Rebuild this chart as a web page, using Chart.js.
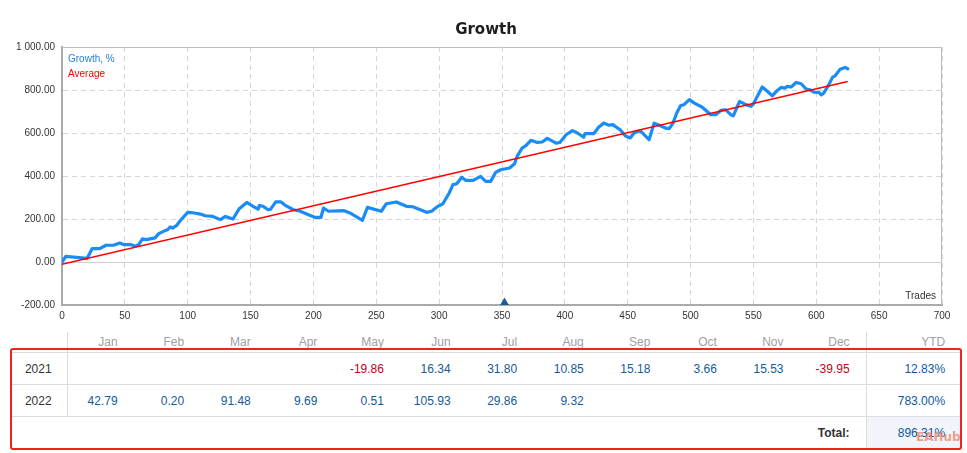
<!DOCTYPE html>
<html>
<head>
<meta charset="utf-8">
<script src="https://cdn.jsdelivr.net/npm/chart.js@4/dist/chart.umd.min.js"></script>
<style>
  body { margin: 0; background: #fff; font-family: "Liberation Sans", Arial, sans-serif; }
  #wrap { position: relative; width: 967px; height: 453px; }
  #growth-chart { position: absolute; left: 0; top: 0; }
  #returns { position: absolute; left: 10px; top: 332px; width: 952px; border-collapse: collapse; table-layout: fixed; font-size: 12px; }
  #returns td { padding: 0; height: 31px; text-align: right; border-top: 1px solid #dcdcdc; }
  #returns tr.head td { height: 20px; color: #a0a0a0; border-top: none; }
  #returns td.year { text-align: center; color: #333; border-right: 1px solid #dcdcdc; }
  #returns td.m { padding-right: 16px; }
  #returns td.ytd { padding-right: 17px; border-left: 1px solid #dcdcdc; color: #0d5aa0; }
  #returns td.pos { color: #135c9c; }
  #returns td.neg { color: #c4001a; }
  #returns td.total-label { padding-right: 16px; font-weight: bold; color: #333; }
  #returns td.total { background: #f1f4fa; }
  #frame { position: absolute; left: 10px; top: 348px; width: 948px; height: 98px; border: 2.5px solid #f0241c; border-radius: 3px; }
  #mark { position: absolute; left: 916px; top: 430px; font: bold 12px "DejaVu Sans", sans-serif; color: rgba(240, 120, 90, 0.7); }
</style>
</head>
<body>
<div id="wrap">
  <canvas id="growth-chart" width="967" height="330"></canvas>
  <table id="returns"></table>
  <div id="frame"></div>
  <div id="mark">EAHub</div>
</div>
<script>
// Growth curve (trade number -> growth %)
const tradeNumbers = [0, 3, 20, 24, 30, 35, 41, 46, 49, 55, 58, 61, 64, 67, 74, 77, 82, 84, 86, 88,
  91, 94, 100, 104, 110, 114, 120, 126, 130, 136, 141, 147, 152, 156, 157, 160, 164, 166, 170, 174,
  178, 184, 189, 196, 201, 206, 208, 212, 224, 229, 239, 243, 254, 258, 266, 274, 279, 290, 294, 299,
  303, 308, 311, 314, 318, 321, 327, 333, 337, 341, 345, 349, 356, 360, 362, 366, 369, 373, 378, 382,
  386, 393, 396, 401, 406, 410, 415, 416, 423, 427, 431, 435, 438, 444, 448, 452, 455, 460, 464, 467,
  471, 475, 480, 483, 486, 489, 492, 495, 499, 503, 509, 513, 516, 520, 524, 528, 532, 534, 539, 544,
  548, 550, 557, 561, 565, 569, 572, 575, 577, 580, 584, 588, 592, 595, 598, 602, 604, 606, 610, 613,
  615, 619, 623, 625];
const growthValues = [0, 26, 17, 62, 62, 78, 78, 88, 81, 81, 73, 81, 108, 104, 112, 132, 146, 150, 163, 158,
  169, 192, 231, 229, 223, 215, 212, 197, 212, 200, 248, 277, 259, 246, 263, 259, 243, 246, 280, 280,
  262, 243, 237, 220, 208, 208, 251, 236, 239, 228, 194, 254, 236, 271, 279, 259, 257, 231, 236, 259,
  271, 321, 360, 364, 394, 380, 380, 398, 375, 375, 417, 429, 437, 457, 491, 530, 541, 566, 556, 558,
  575, 553, 556, 592, 611, 600, 580, 597, 597, 628, 646, 636, 639, 615, 587, 577, 600, 611, 587, 569,
  646, 636, 623, 620, 646, 693, 727, 733, 755, 739, 721, 701, 685, 685, 705, 708, 685, 680, 747, 732,
  724, 736, 814, 794, 773, 798, 812, 809, 817, 814, 835, 829, 804, 801, 790, 789, 777, 786, 825, 860,
  866, 897, 905, 899];

// Average (trend) line end points
const averageTrades = [0, 625];
const averageValues = [-10, 840];

// small marker sitting on the trades axis
const markerTrades = [352];
const markerValues = [-190];

// Monthly returns table
const monthNames = ["Jan", "Feb", "Mar", "Apr", "May", "Jun", "Jul", "Aug", "Sep", "Oct", "Nov", "Dec"];
const years = ["2021", "2022"];
const returns2021 = [null, null, null, null, -19.86, 16.34, 31.80, 10.85, 15.18, 3.66, 15.53, -39.95];
const returns2022 = [42.79, 0.20, 91.48, 9.69, 0.51, 105.93, 29.86, 9.32, null, null, null, null];
const ytdValues = ["12.83%", "783.00%"];
const totalValue = "896.31%";

const BLUE = "#1a8cf5";
const RED = "#ff0000";

function toPoints(xs, ys) {
  return xs.map((x, i) => ({ x, y: ys[i] }));
}

function formatValue(v) {
  const fixed = Math.abs(v).toFixed(2);
  const [intPart, dec] = fixed.split(".");
  const grouped = intPart.replace(/\B(?=(\d{3})+(?!\d))/g, " ");
  return (v < 0 ? "-" : "") + grouped + "." + dec;
}

// title, in-plot legend, "Trades" caption and the plot frame
const decorations = {
  id: "decorations",
  beforeDatasetsDraw(chart) {
    const { ctx, chartArea: a } = chart;
    ctx.save();
    ctx.strokeStyle = "#bdbdbd";
    ctx.lineWidth = 1;
    ctx.beginPath();
    ctx.moveTo(a.left, a.top + 0.5);
    ctx.lineTo(a.right - 0.5, a.top + 0.5);
    ctx.lineTo(a.right - 0.5, a.bottom);
    ctx.stroke();
    ctx.restore();
  },
  afterDraw(chart) {
    const { ctx, chartArea: a } = chart;
    ctx.save();
    ctx.textBaseline = "middle";
    ctx.textAlign = "center";
    ctx.fillStyle = "#1e1e1e";
    ctx.font = "bold 15px 'DejaVu Sans'";
    ctx.fillText("Growth", 486, 30);

    ctx.textAlign = "left";
    ctx.font = "10px 'Liberation Sans'";
    const legendItems = chart.data.datasets.filter((d) => d.label);
    legendItems.forEach((d, i) => {
      ctx.fillStyle = d.legendColor;
      ctx.fillText(d.label, a.left + 6, a.top + 12 + i * 15);
    });

    ctx.textAlign = "right";
    ctx.fillStyle = "#333";
    ctx.fillText("Trades", a.right - 6, a.bottom - 9);
    ctx.restore();
  },
};

const gridDash = (ctx) => (ctx.type === "tick" && ctx.tick && ctx.tick.value !== 0 ? [5, 4] : []);

new Chart(document.getElementById("growth-chart"), {
  type: "line",
  data: {
    datasets: [
      {
        label: "Growth, %",
        legendColor: "#2b82d8",
        data: toPoints(tradeNumbers, growthValues),
        borderColor: BLUE,
        borderWidth: 3.2,
        borderJoinStyle: "round",
        borderCapStyle: "round",
        pointRadius: 0,
        tension: 0,
        order: 2,
      },
      {
        label: "Average",
        legendColor: RED,
        data: toPoints(averageTrades, averageValues),
        borderColor: RED,
        borderWidth: 1.5,
        pointRadius: 0,
        tension: 0,
        order: 1,
      },
      {
        data: toPoints(markerTrades, markerValues),
        showLine: false,
        pointStyle: "triangle",
        pointRadius: 4.5,
        pointBackgroundColor: "#1c5c98",
        pointBorderColor: "#1c5c98",
        pointBorderWidth: 1,
        order: 0,
      },
    ],
  },
  options: {
    responsive: false,
    animation: false,
    layout: { padding: { left: 0, right: 25, top: 47, bottom: 0 } },
    plugins: { legend: { display: false }, tooltip: { enabled: false }, title: { display: false } },
    scales: {
      x: {
        type: "linear",
        min: 0,
        max: 700,
        ticks: { stepSize: 50, color: "#333", font: { family: "Liberation Sans", size: 10 }, padding: 5, maxRotation: 0 },
        grid: { color: "#d6d6d6", drawTicks: false },
        border: { color: "#aaaaaa", width: 2, dash: gridDash },
        afterFit: (scale) => { scale.height = 25; },
      },
      y: {
        min: -200,
        max: 1000,
        ticks: { stepSize: 200, color: "#333", font: { family: "Liberation Sans", size: 10 }, padding: 7, callback: (v) => formatValue(v) },
        grid: { color: (ctx) => (ctx.tick && ctx.tick.value === 0 ? "#cfcfcf" : "#d6d6d6"), drawTicks: false },
        border: { color: "#aaaaaa", width: 2, dash: gridDash },
        afterFit: (scale) => { scale.width = 62; },
      },
    },
  },
  plugins: [decorations],
});

// monthly returns table
function buildTable() {
  const table = document.getElementById("returns");
  let html = '<colgroup><col style="width:57px">';
  monthNames.forEach(() => { html += '<col style="width:66.6px">'; });
  html += '<col style="width:96px"></colgroup>';

  html += '<tr class="head"><td class="year" style="border-right:1px solid #dcdcdc"></td>';
  monthNames.forEach((m) => { html += '<td class="m">' + m + "</td>"; });
  html += '<td class="ytd" style="color:#a0a0a0">YTD</td></tr>';

  [returns2021, returns2022].forEach((row, r) => {
    html += '<tr><td class="year">' + years[r] + "</td>";
    row.forEach((v) => {
      if (v === null) html += '<td class="m"></td>';
      else html += '<td class="m ' + (v < 0 ? "neg" : "pos") + '">' + v.toFixed(2) + "</td>";
    });
    html += '<td class="ytd">' + ytdValues[r] + "</td></tr>";
  });

  html += '<tr><td colspan="13" class="total-label">Total:</td><td class="ytd total">' + totalValue + "</td></tr>";
  table.innerHTML = html;
}
buildTable();
</script>
</body>
</html>
